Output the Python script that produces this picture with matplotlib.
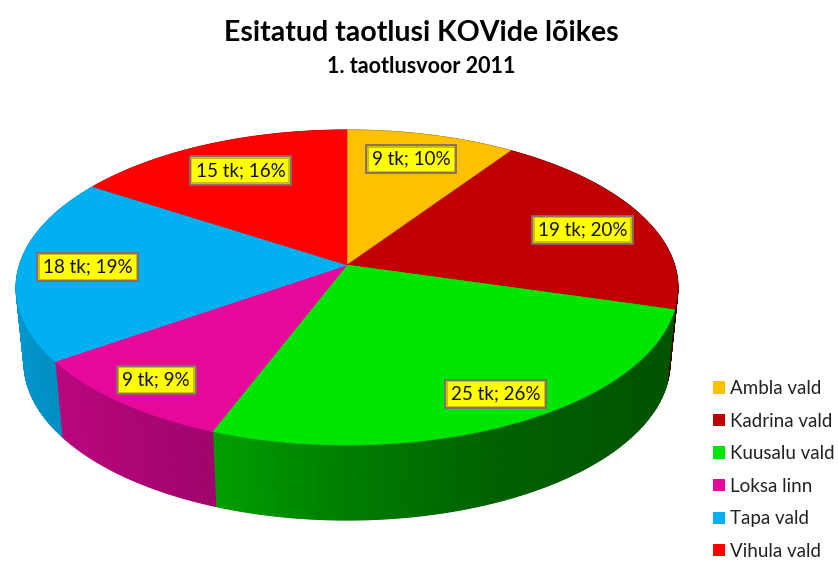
import numpy as np
import matplotlib
matplotlib.use('Agg')
import matplotlib.pyplot as plt
from matplotlib.patches import Patch
from matplotlib.colors import to_rgb

plt.rcParams['font.family'] = ['Lato', 'DejaVu Sans']

names = ['Ambla vald', 'Kadrina vald', 'Kuusalu vald', 'Loksa linn', 'Tapa vald', 'Vihula vald']
counts = [9, 19, 25, 9, 18, 15]
percents = [10, 20, 26, 9, 19, 16]
colors = ['#FFC000', '#C00000', '#00E600', '#E6079B', '#00B0F0', '#FF0000']
label_radius = [0.79, 0.78, 0.85, 0.855, 0.79, 0.76]
label_angle = [16, 72.4, 151.5, 218, 269, 332]

# pie geometry in pixels, the top is a circle seen in perspective
cx, cy = 347, 265
width = 327.5
height = 154.3
persp = 0.143
depth = 75
taper = 0.976


def project(theta, r=1.0):
    u = r * np.sin(theta)
    v = r * np.cos(theta)
    den = 1 + persp * v
    return cx + width * u / den, cy - height * v / den


def shade(x):
    # side wall gets darker going left to right
    return np.interp(x, [16, 60, 213, 350, 500, 678], [0.85, 0.8, 0.69, 0.54, 0.42, 0.36])


fig = plt.figure(figsize=(8.38, 5.61), dpi=100)
ax = fig.add_axes([0, 0, 1, 1])
ax.set_xlim(0, 838)
ax.set_ylim(561, 0)
ax.axis('off')

edges = np.cumsum([0] + counts) / sum(counts) * 2 * np.pi

# side wall first, bottom rim is a bit narrower than the top
for i in range(len(counts)):
    th = np.linspace(edges[i], edges[i + 1], max(int((edges[i + 1] - edges[i]) * 120), 2))
    x, y = project(th)
    xb = cx + (x - cx) * taper
    base = np.array(to_rgb(colors[i]))
    for j in range(len(th) - 1):
        c = base * shade((x[j] + x[j + 1]) / 2)
        ax.fill([x[j], x[j + 1], xb[j + 1], xb[j]],
                [y[j], y[j + 1], y[j + 1] + depth, y[j] + depth],
                color=c, lw=0.8, zorder=1)

# top of the pie
for i in range(len(counts)):
    th = np.linspace(edges[i], edges[i + 1], 120)
    x, y = project(th)
    ax.fill(np.r_[cx, x], np.r_[cy, y], color=colors[i], lw=0.4, zorder=2)

# data labels, drawn twice to get the bevel round the yellow box
for i in range(len(counts)):
    lx, ly = project(np.radians(label_angle[i]), label_radius[i])
    txt = f'{counts[i]} tk; {percents[i]}%'
    ax.text(lx, ly, txt, ha='center', va='center', fontsize=13.5, color='#111111', zorder=3,
            bbox=dict(boxstyle='square,pad=0.3', facecolor='#CDBE00', edgecolor='#85696F', linewidth=1.3))
    ax.text(lx, ly, txt, ha='center', va='center', fontsize=13.5, color='#111111', zorder=4,
            bbox=dict(boxstyle='square,pad=0.17', facecolor='#FFFF00', edgecolor='none'))

ax.text(421, 33, 'Esitatud taotlusi KOVide lõikes', ha='center', va='center',
        fontsize=20.5, fontweight='bold', color='black')
ax.text(421, 66, '1. taotlusvoor 2011', ha='center', va='center',
        fontsize=15.5, fontweight='bold', color='black')

handles = [Patch(facecolor=c, edgecolor='none') for c in colors]
ax.legend(handles, names, loc='lower left', bbox_to_anchor=(0.851, 0.002), frameon=False,
          fontsize=13.5, labelspacing=0.83, handlelength=0.63, handleheight=0.63, handletextpad=0.27,
          borderpad=0, borderaxespad=0, labelcolor='#222222')

plt.savefig('out.png', dpi=100)
